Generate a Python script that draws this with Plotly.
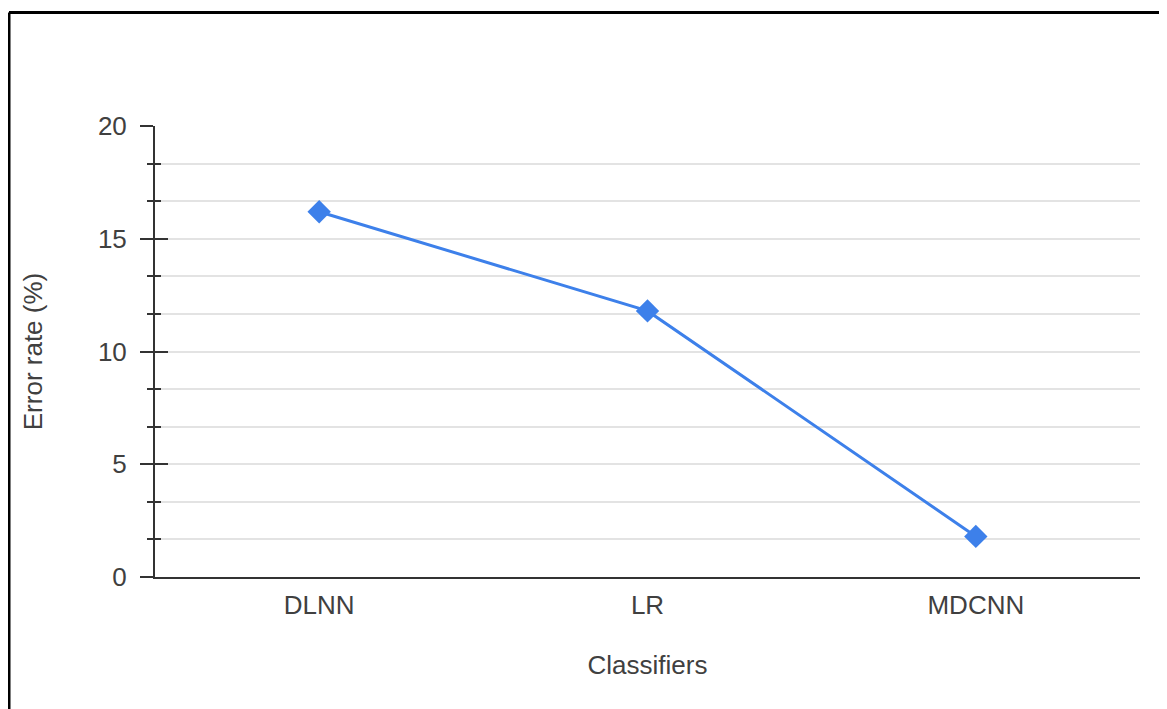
import plotly.graph_objects as go

categories = ["DLNN", "LR", "MDCNN"]
error_rate = [16.2, 11.8, 1.8]
y_ticks = [0, 5, 10, 15, 20]

# page body has an 8px margin, so the figure is sized to fit the window
W, H = 1159, 701
L, R, T, B = 147, 27, 118, 132

fig = go.Figure()
fig.add_trace(go.Scatter(
    x=categories, y=error_rate, mode="lines+markers",
    line=dict(color="#3d80ea", width=3),
    marker=dict(symbol="diamond", size=18, color="#3d80ea"),
    showlegend=False,
))
# invisible trace on overlay axis to carry inside ticks
fig.add_trace(go.Scatter(x=categories, y=error_rate, yaxis="y2", mode="markers",
                         marker=dict(opacity=0), showlegend=False, hoverinfo="skip"))

font = dict(family="Liberation Sans, Arial, sans-serif", size=26, color="#404040")

fig.update_layout(
    width=W, height=H,
    margin=dict(l=L, r=R, t=T, b=B),
    paper_bgcolor="white", plot_bgcolor="white",
    font=font,
    xaxis=dict(
        range=[-0.5, 2.5], showgrid=False, zeroline=False,
        showline=True, linecolor="#333", linewidth=2,
        ticks="", tickfont=font, ticklabelstandoff=4,
        title=dict(text="Classifiers", font=font, standoff=37),
    ),
    yaxis=dict(
        range=[0, 20], tickvals=y_ticks, ticktext=[str(v) for v in y_ticks],
        showgrid=True, gridcolor="#e3e3e3", gridwidth=1.5, zeroline=False,
        showline=True, linecolor="#333", linewidth=2,
        ticks="outside", ticklen=13, tickwidth=2, tickcolor="#333",
        tickfont=font, ticklabelstandoff=8,
        minor=dict(dtick=5/3, tick0=0, ticks="outside", ticklen=6, tickwidth=2,
                   tickcolor="#333", showgrid=True, gridcolor="#e3e3e3", gridwidth=1.5),
        title=dict(text="Error rate (%)", font=font, standoff=48),
    ),
    yaxis2=dict(
        range=[0, 20], overlaying="y", side="left", tickvals=y_ticks,
        showticklabels=False, showgrid=False, zeroline=False, showline=False,
        ticks="inside", ticklen=13, tickwidth=2, tickcolor="#333",
        minor=dict(dtick=5/3, tick0=0, ticks="inside", ticklen=6, tickwidth=2,
                   tickcolor="#333", showgrid=False),
    ),
)

# outer frame (left and top edges visible)
pw = W - L - R
ph = H - T - B
fx, fy = 1.0, 4.5
fig.add_shape(type="line", xref="paper", yref="paper",
              x0=(fx - L) / pw, x1=(fx - L) / pw, y0=(H - fy - B) / ph, y1=(-10 - B) / ph,
              line=dict(color="black", width=3))
fig.add_shape(type="line", xref="paper", yref="paper",
              x0=(fx - L) / pw, x1=(W + 10 - L) / pw, y0=(H - fy - B) / ph, y1=(H - fy - B) / ph,
              line=dict(color="black", width=3))

fig.write_html("out.html")
